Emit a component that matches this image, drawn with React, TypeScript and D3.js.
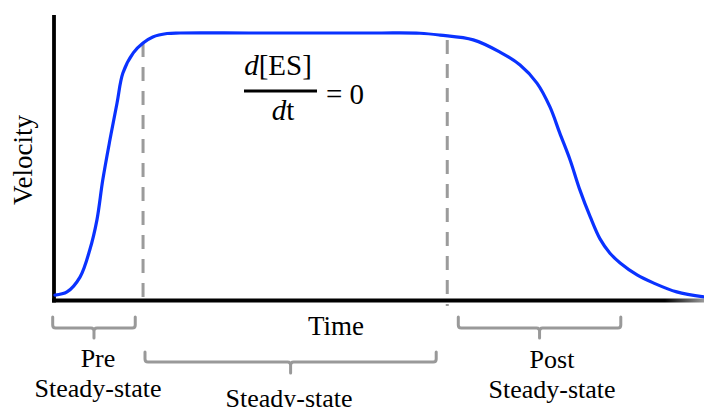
import React from "react";
import * as d3 from "d3";

// Velocity (% of plateau) over time (arbitrary units, 0–100)
const timePoints = [0.15, 2.0, 4.0, 5.5, 6.6, 7.5, 8.6, 9.7, 10.6, 12.2, 13.7, 15.2, 17.4, 19.4, 30, 40, 50, 56.3, 59.4, 64.5, 68.6, 71.7, 74.3, 76.3, 77.8, 79.4, 80.9, 82.5, 84.0, 85.5, 87.1, 89.7, 92.2, 95.8, 100];
const velocityPoints = [1.1, 2.3, 7.9, 18.1, 29.4, 44.5, 59.6, 73.6, 84.9, 92.5, 96.2, 98.5, 99.8, 100, 100, 100, 100, 99.9, 99.2, 97.4, 92.8, 87.9, 81.1, 72.1, 62.3, 52.1, 40.8, 30.6, 22.3, 17.0, 13.2, 8.7, 5.7, 2.3, 0.4];

// Phase boundaries (time units) marked with dashed lines
const phaseBoundaries = [13.7, 60.5];

// Phase brackets in time units; row 0 = upper, 1 = lower
const phaseNames = ["Pre", "", "Post"];
const phaseStarts = [-0.2, 14.0, 62.2];
const phaseEnds = [12.5, 58.8, 87.2];
const phaseRows = [0, 1, 0];

const W = 704;
const H = 407;
const FONT = "Times New Roman, Times, Liberation Serif, DejaVu Serif, serif";

export default function App() {
  const x = d3.scaleLinear().domain([0, 100]).range([54, 704]);
  const y = d3.scaleLinear().domain([0, 100]).range([298, 33]);

  const data = timePoints.map((t, i) => [t, velocityPoints[i]] as [number, number]);
  const line = d3
    .line<[number, number]>()
    .x((d) => x(d[0]))
    .y((d) => y(d[1]))
    .curve(d3.curveCatmullRom.alpha(0.5));

  const bracketPath = (x0: number, x1: number, top: number, bottom: number, tip: number) => {
    const r = 3;
    const xm = (x0 + x1) / 2;
    return `M${x0},${top} L${x0},${bottom - r} Q${x0},${bottom} ${x0 + r},${bottom} L${xm - r},${bottom} Q${xm},${bottom} ${xm},${bottom + r} L${xm},${tip} M${xm},${bottom + r} Q${xm},${bottom} ${xm + r},${bottom} L${x1 - r},${bottom} Q${x1},${bottom} ${x1},${bottom - r} L${x1},${top}`;
  };

  const rows = [
    { top: 317, bottom: 328, tip: 338 },
    { top: 352, bottom: 362, tip: 373 },
  ];

  return (
    <svg
      width={W}
      height={H}
      style={{ position: "absolute", left: 0, top: 0, display: "block", background: "#fff" }}
    >
      <defs>
        <linearGradient id="axisFade" gradientUnits="userSpaceOnUse" x1={52} x2={704} y1={0} y2={0}>
          <stop offset="0" stopColor="#000" />
          <stop offset="0.94" stopColor="#000" />
          <stop offset="1" stopColor="#9a9a9a" />
        </linearGradient>
      </defs>

      {/* dashed phase boundaries */}
      {phaseBoundaries.map((t, i) => (
        <line
          key={i}
          x1={x(t)}
          x2={x(t)}
          y1={i === 0 ? 43 : 40}
          y2={306}
          stroke="#9b9b9b"
          strokeWidth={3}
          strokeDasharray="14 10"
        />
      ))}

      {/* axes */}
      <line x1={52} x2={704} y1={300.5} y2={300.5} stroke="url(#axisFade)" strokeWidth={3.8} />
      <line x1={54} x2={54} y1={15} y2={302.5} stroke="#000" strokeWidth={3.8} />

      {/* velocity curve */}
      <path d={line(data) ?? ""} fill="none" stroke="#0a32ff" strokeWidth={3.2} strokeLinecap="round" />

      <g fontFamily={FONT} fill="#000">
        {/* axis titles */}
        <text x={336} y={335} fontSize={27} textAnchor="middle">
          Time
        </text>
        <text transform="translate(32,160) rotate(-90)" fontSize={27} textAnchor="middle">
          Velocity
        </text>

        {/* steady-state condition */}
        <text x={278} y={75} fontSize={29} textAnchor="middle">
          <tspan fontStyle="italic">d</tspan>[ES]
        </text>
        <text x={283} y={120} fontSize={29} textAnchor="middle">
          <tspan fontStyle="italic">d</tspan>t
        </text>
        <text x={326} y={104} fontSize={29} textAnchor="start">
          = 0
        </text>

        {/* phase labels */}
        <text x={98} y={367} fontSize={26} textAnchor="middle">{phaseNames[0]}</text>
        <text x={98} y={397} fontSize={26} textAnchor="middle">Steady-state</text>
        <text x={289} y={407} fontSize={26} textAnchor="middle">Steady-state</text>
        <text x={552} y={368} fontSize={26} textAnchor="middle">{phaseNames[2]}</text>
        <text x={552} y={398} fontSize={26} textAnchor="middle">Steady-state</text>
      </g>
      <line x1={244} x2={317} y1={91} y2={91} stroke="#000" strokeWidth={3} />

      {/* phase brackets */}
      {phaseStarts.map((s, i) => {
        const r = rows[phaseRows[i]];
        return (
          <path
            key={i}
            d={bracketPath(x(s), x(phaseEnds[i]), r.top, r.bottom, r.tip)}
            fill="none"
            stroke="#999"
            strokeWidth={3}
            strokeLinecap="round"
          />
        );
      })}
    </svg>
  );
}
